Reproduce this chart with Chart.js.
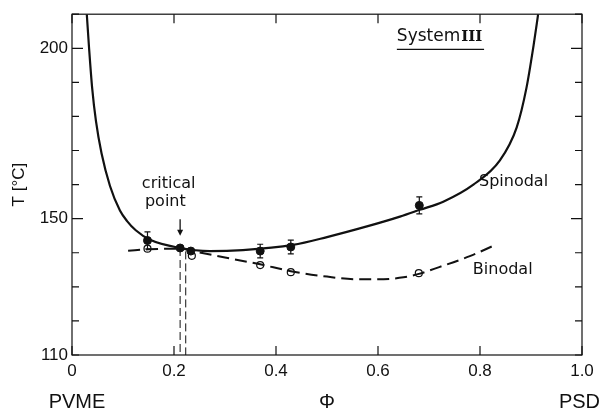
<!DOCTYPE html>
<html>
<head>
<meta charset="utf-8">
<script src="https://cdn.jsdelivr.net/npm/chart.js@4.4.0/dist/chart.umd.min.js"></script>
<style>
  html, body { margin: 0; padding: 0; background: #fff; }
  #wrap { width: 601px; height: 415px; position: relative; }
</style>
</head>
<body>
<div id="wrap"><canvas id="chart"></canvas></div>
<script>
// spinodal curve (solid)
const phiSpinodal = [0.029, 0.0335, 0.0395, 0.047, 0.058, 0.0745, 0.094, 0.108, 0.125, 0.153, 0.212, 0.27, 0.335, 0.433, 0.5, 0.58, 0.643, 0.682, 0.728, 0.787, 0.839, 0.872, 0.891, 0.905, 0.914]
const tSpinodal   = [210, 200, 188.4, 178.6, 169.1, 159.6, 152.4, 149.3, 146.6, 143.8, 141.4, 140.5, 140.8, 142.3, 144.6, 147.8, 150.6, 152.6, 155.0, 160.0, 167.1, 176.8, 188.3, 200.8, 210]

// binodal curve (dashed)
const phiBinodal = [0.11, 0.15, 0.212, 0.25, 0.3, 0.369, 0.429, 0.5, 0.56, 0.6, 0.65, 0.68, 0.72, 0.78, 0.83]
const tBinodal   = [140.6, 141.0, 141.2, 140.1, 138.6, 136.6, 134.6, 133.0, 132.2, 132.2, 132.8, 133.8, 135.8, 139.0, 142.3]

// measured spinodal points (filled) with error
const phiSpinMeas = [0.148, 0.212, 0.233, 0.369, 0.429, 0.681]
const tSpinMeas   = [143.6, 141.4, 140.5, 140.5, 141.7, 153.9]
const errSpinMeas = [2.5, 0, 0, 2.0, 2.0, 2.5]

// measured binodal points (open)
const phiBinMeas = [0.148, 0.235, 0.369, 0.429, 0.680]
const tBinMeas   = [141.2, 139.1, 136.4, 134.3, 134.0]

// dashed drop lines at the critical point
const phiDrop = [0.212, 0.223]
const tDropTop = [141.4, 140.4]

const xTickLabels = ['0', '0.2', '0.4', '0.6', '0.8', '1.0']
const yTickLabels = { 110: '110', 150: '150', 200: '200' }

const FONT = "'Liberation Sans', 'DejaVu Sans', sans-serif"
const NOTE = "'DejaVu Sans', sans-serif"
const INK  = '#111'

const pts = (xs, ys) => xs.map((x, i) => ({ x, y: ys[i] }))

const dropSets = phiDrop.map((p, i) => ({
  data: [{ x: p, y: tDropTop[i] }, { x: p, y: 110 }],
  showLine: true, borderColor: INK, borderWidth: 1, borderDash: [8, 4],
  pointRadius: 0,
}))

const frame = {
  id: 'frame',
  afterDraw(chart) {
    const { ctx, chartArea: a, scales: { x, y } } = chart
    ctx.save()
    ctx.strokeStyle = INK
    ctx.fillStyle = INK
    ctx.lineWidth = 1.2
    ctx.strokeRect(a.left, a.top, a.right - a.left, a.bottom - a.top)

    // inward ticks
    ctx.beginPath()
    y.ticks.forEach(t => {
      const py = y.getPixelForValue(t.value)
      const len = (t.value === 150 || t.value === 200) ? 11 : 7
      ctx.moveTo(a.left, py);  ctx.lineTo(a.left + len, py)
      ctx.moveTo(a.right, py); ctx.lineTo(a.right - len, py)
    })
    x.ticks.forEach(t => {
      const px = x.getPixelForValue(t.value)
      ctx.moveTo(px, a.bottom); ctx.lineTo(px, a.bottom - 9)
      ctx.moveTo(px, a.top);    ctx.lineTo(px, a.top + 9)
    })
    ctx.stroke()

    // error bars
    ctx.lineWidth = 1.2
    phiSpinMeas.forEach((p, i) => {
      const e = errSpinMeas[i]
      if (!e) return
      const px = x.getPixelForValue(p)
      const y1 = y.getPixelForValue(tSpinMeas[i] + e)
      const y2 = y.getPixelForValue(tSpinMeas[i] - e)
      ctx.beginPath()
      ctx.moveTo(px, y1); ctx.lineTo(px, y2)
      ctx.moveTo(px - 3, y1); ctx.lineTo(px + 3, y1)
      ctx.moveTo(px - 3, y2); ctx.lineTo(px + 3, y2)
      ctx.stroke()
    })

    // arrow to critical point
    const ax = x.getPixelForValue(0.212)
    const ay1 = y.getPixelForValue(149.8), ay2 = y.getPixelForValue(145.0)
    ctx.lineWidth = 1.3
    ctx.beginPath(); ctx.moveTo(ax, ay1); ctx.lineTo(ax, ay2 - 4); ctx.stroke()
    ctx.beginPath(); ctx.moveTo(ax - 3, ay2 - 6); ctx.lineTo(ax + 3, ay2 - 6); ctx.lineTo(ax, ay2); ctx.closePath(); ctx.fill()

    // texts
    ctx.textBaseline = 'middle'
    ctx.font = `16px ${NOTE}`
    ctx.textAlign = 'left'
    ctx.fillText('critical', x.getPixelForValue(0.137), y.getPixelForValue(160.1))
    ctx.fillText('point', x.getPixelForValue(0.143), y.getPixelForValue(155.0))
    ctx.fillText('Spinodal', x.getPixelForValue(0.798), y.getPixelForValue(160.7))
    ctx.fillText('Binodal', x.getPixelForValue(0.786), y.getPixelForValue(135.1))

    ctx.font = `17px ${NOTE}`
    const sx = x.getPixelForValue(0.637), sy = y.getPixelForValue(203.5)
    ctx.fillText('System', sx, sy)
    const sw = ctx.measureText('System').width
    ctx.font = `bold 15px 'DejaVu Serif', serif`
    ctx.fillText('III', sx + sw + 1, sy + 1)
    ctx.lineWidth = 1.2
    ctx.beginPath(); ctx.moveTo(sx, sy + 13); ctx.lineTo(x.getPixelForValue(0.808), sy + 13); ctx.stroke()

    ctx.font = `20px ${FONT}`
    ctx.textAlign = 'center'
    ctx.fillText('PVME', 77, 402)
    ctx.textAlign = 'right'
    ctx.fillText('PSD', 600, 402)
    ctx.restore()
  }
}

new Chart(document.getElementById('chart'), {
  type: 'scatter',
  data: {
    datasets: [
      {
        data: pts(phiSpinodal, tSpinodal), showLine: true,
        borderColor: INK, borderWidth: 2.2, pointRadius: 0,
        cubicInterpolationMode: 'monotone',
      },
      {
        data: pts(phiBinodal, tBinodal), showLine: true,
        borderColor: INK, borderWidth: 2, borderDash: [12, 6], pointRadius: 0,
        cubicInterpolationMode: 'monotone',
      },
      ...dropSets,
      {
        data: pts(phiSpinMeas, tSpinMeas),
        pointRadius: 4, backgroundColor: INK, borderColor: INK, borderWidth: 1,
      },
      {
        data: pts(phiBinMeas, tBinMeas),
        pointRadius: 3.5, backgroundColor: '#fff', borderColor: INK, borderWidth: 1.2,
      },
    ],
  },
  options: {
    responsive: true,
    maintainAspectRatio: false,
    animation: false,
    layout: { padding: { top: 9, right: 19, left: 0, bottom: 0 } },
    plugins: { legend: { display: false }, tooltip: { enabled: false } },
    scales: {
      x: {
        type: 'linear', min: 0, max: 1,
        grid: { display: false, drawTicks: false },
        border: { display: false },
        afterFit: s => { s.height = 60 },
        ticks: {
          stepSize: 0.2, autoSkip: false, maxRotation: 0, padding: 6,
          color: INK, font: { family: FONT, size: 17 },
          callback: (v, i) => xTickLabels[i],
        },
        title: { display: true, text: 'Φ', color: INK, font: { family: FONT, size: 20 }, padding: { top: 0, bottom: 1 } },
      },
      y: {
        min: 110, max: 210,
        grid: { display: false, drawTicks: false },
        border: { display: false },
        afterFit: s => { s.width = 72 },
        ticks: {
          stepSize: 10, autoSkip: false, padding: 4,
          color: INK, font: { family: FONT, size: 17 },
          callback: v => yTickLabels[v] || '',
        },
        title: { display: true, text: 'T [°C]', color: INK, font: { family: FONT, size: 17 }, padding: { top: 9, bottom: 0 } },
      },
    },
  },
  plugins: [frame],
})
</script>
</body>
</html>
